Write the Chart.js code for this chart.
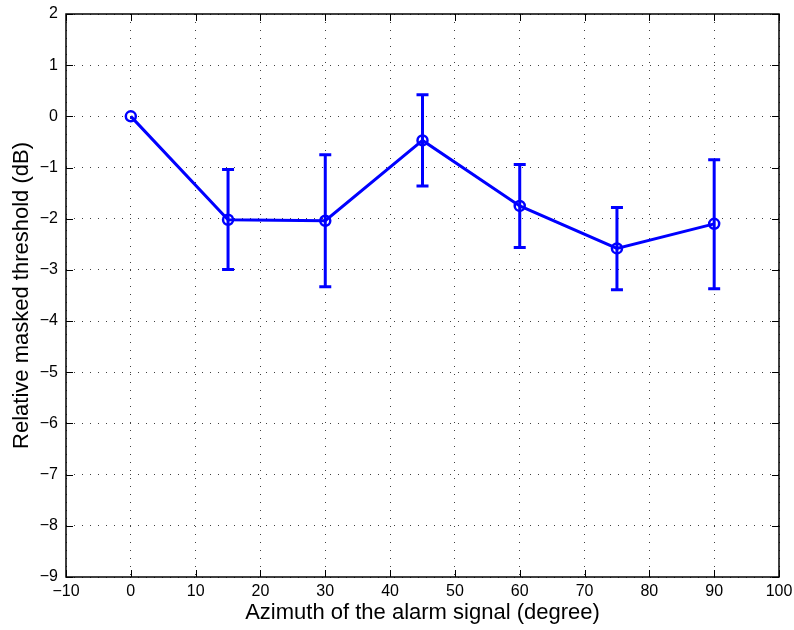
<!DOCTYPE html>
<html>
<head>
<meta charset="utf-8">
<script src="https://cdn.jsdelivr.net/npm/chart.js@4/dist/chart.umd.min.js"></script>
<style>
  html, body { margin: 0; padding: 0; background: #fff; }
  #wrap { width: 794px; height: 630px; }
</style>
</head>
<body>
<div id="wrap"><canvas id="c" width="794" height="630"></canvas></div>
<script>
// azimuth (deg) and mean relative threshold (dB), with error bar ends
const azimuth  = [0, 15, 30, 45, 60, 75, 90];
const meanDb   = [0, -2.02, -2.04, -0.47, -1.75, -2.58, -2.10];
const errHigh  = [0, -1.04, -0.75, 0.42, -0.94, -1.78, -0.85];
const errLow   = [0, -2.99, -3.33, -1.36, -2.56, -3.39, -3.37];

const BLUE = '#0000ff';
const FONT = 'Liberation Sans, Arial, Helvetica, sans-serif';
const minus = v => String(v).replace('-', '\u2212');

// error bars drawn through the chart's scales
const errorBars = {
  id: 'errorBars',
  afterDatasetsDraw(chart) {
    const { ctx, scales: { x, y } } = chart;
    ctx.save();
    ctx.strokeStyle = BLUE;
    ctx.lineWidth = 3;
    azimuth.forEach((a, i) => {
      if (errHigh[i] === errLow[i]) return;
      const px = x.getPixelForValue(a);
      const yt = y.getPixelForValue(errHigh[i]);
      const yb = y.getPixelForValue(errLow[i]);
      ctx.beginPath();
      ctx.moveTo(px, yt); ctx.lineTo(px, yb);
      ctx.moveTo(px - 6, yt); ctx.lineTo(px + 6, yt);
      ctx.moveTo(px - 6, yb); ctx.lineTo(px + 6, yb);
      ctx.stroke();
    });
    ctx.restore();
  }
};

// matlab-style box with inward ticks
const boxTicks = {
  id: 'boxTicks',
  afterDraw(chart) {
    const { ctx, chartArea: a, scales: { x, y } } = chart;
    ctx.save();
    ctx.strokeStyle = '#000';
    ctx.lineWidth = 1;
    ctx.beginPath();
    x.ticks.forEach(t => {
      const px = Math.round(x.getPixelForValue(t.value)) + 0.5;
      ctx.moveTo(px, a.bottom); ctx.lineTo(px, a.bottom - 7);
      ctx.moveTo(px, a.top); ctx.lineTo(px, a.top + 7);
    });
    y.ticks.forEach(t => {
      const py = Math.round(y.getPixelForValue(t.value)) + 0.5;
      ctx.moveTo(a.left, py); ctx.lineTo(a.left + 7, py);
      ctx.moveTo(a.right, py); ctx.lineTo(a.right - 7, py);
    });
    ctx.stroke();
    ctx.lineWidth = 1.5;
    ctx.strokeRect(a.left, a.top, a.right - a.left, a.bottom - a.top);
    ctx.restore();
  }
};

new Chart(document.getElementById('c'), {
  type: 'line',
  data: {
    datasets: [{
      data: azimuth.map((a, i) => ({ x: a, y: meanDb[i] })),
      borderColor: BLUE,
      borderWidth: 3,
      pointRadius: 5,
      pointBorderWidth: 2.5,
      pointBorderColor: BLUE,
      pointBackgroundColor: 'rgba(0,0,0,0)',
      tension: 0
    }]
  },
  options: {
    responsive: false,
    animation: false,
    events: [],
    layout: { padding: { top: 14, right: 15, left: 0, bottom: 0 } },
    plugins: { legend: { display: false }, tooltip: { enabled: false } },
    scales: {
      x: {
        type: 'linear', min: -10, max: 100,
        afterFit: s => { s.height = 53; s.paddingLeft = 0; s.paddingRight = 0; },
        ticks: { stepSize: 10, color: '#000', font: { family: FONT, size: 16 }, padding: 5, maxRotation: 0, callback: v => minus(v) },
        grid: { color: 'rgba(0,0,0,0.75)', lineWidth: 1, drawTicks: false },
        border: { display: false, dash: [1, 7] },
        title: { display: true, text: 'Azimuth of the alarm signal (degree)', color: '#000', font: { family: FONT, size: 22 }, padding: { top: 0, bottom: 4 } }
      },
      y: {
        min: -9, max: 2,
        afterFit: s => { s.width = 66; s.paddingTop = 0; s.paddingBottom = 0; },
        ticks: { stepSize: 1, color: '#000', font: { family: FONT, size: 16 }, padding: 8, callback: v => minus(v) },
        grid: { color: 'rgba(0,0,0,0.75)', lineWidth: 1, drawTicks: false },
        border: { display: false, dash: [1, 7] },
        title: { display: true, text: 'Relative masked threshold (dB)', color: '#000', font: { family: FONT, size: 22 }, padding: { top: 9, bottom: 0 } }
      }
    }
  },
  plugins: [errorBars, boxTicks]
});
</script>
</body>
</html>
